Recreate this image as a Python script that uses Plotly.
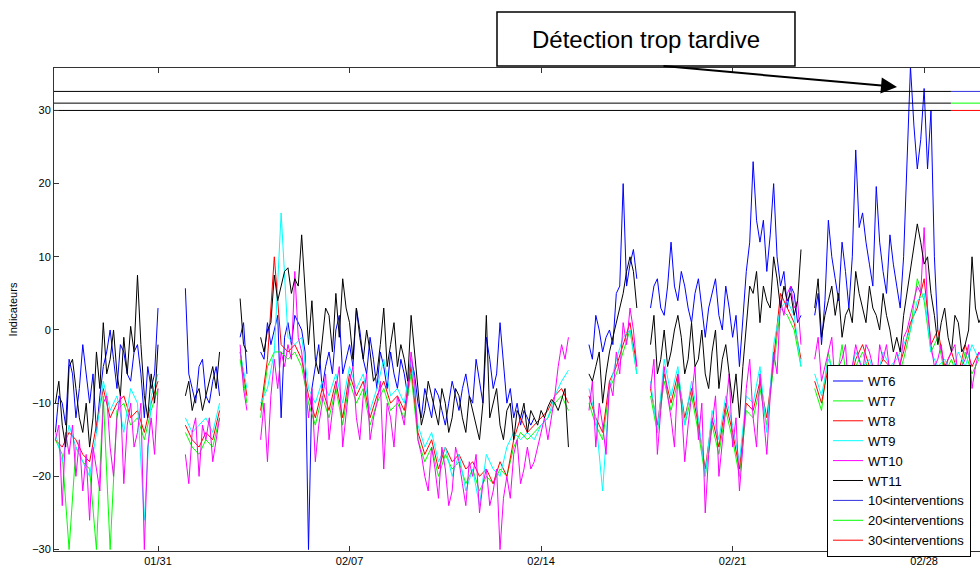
import plotly.graph_objects as go
import pandas as pd

# 6-hourly samples, starting 01/27 06:00
start = "2011-01-27 06:00"
n_points = 136

wt6 = [-14, -10, -4, -12, -2, -10, -14, -5, 0, -8,
       -3, -7, -2, -12, -8, 3, None, None, None, 5.7,
       -8, -5, -9, -7, -9, None, None, -1, -6, None,
       -3, 1, 0, -12, 1, 2, 0, -30, -5, -8,
       -3, 0, -6, -2, 3, -4, -1, -8, -5, -3,
       -8, -6, -4, -10, -8, -12, -9, -13, -7, -11,
       -6, -10, -7, -1, -8, 1, -10, -12, -13, -12,
       -12, None, None, None, None, None, None, None, -2, 2,
       -3, 0, 5, 20, 9, 7, None, 3, 7, 2,
       12, 4, 6, 1, 7, -1, 5, 2, 6, -1,
       -5, 8, 23, 12, 8, 20, 6, 3, 5, 2,
       None, 2, -2, 15, 7, 12, 3, 24.6, 16, 9,
       19.6, 8, 13, 6, 10, 36, 22, 33, 30, 0,
       None, None, None, None, None, None]
# values 3 h later (other side of the noisy band)
wt6_mid = [-9, -13, -6, -8, -6, -6, -9, -3, -4, -2,
           -6, -3, -6, -5, -6, None, None, None, None, -6,
           -10, -4, -10, -5, None, None, None, 1, None, None,
           -4, -2, 2, -1, -2, 1, -3, -8, -2, -5,
           -6, 2, -4, -5, 0, -6, -4, -3, -8, -6,
           -4, -9, -6, -12, -10, -8, -11, -10, -9, -8,
           -9, -4, -10, -4, -6, -4, -8, -10, -11, -13,
           None, None, None, None, None, None, None, None, -4, 0,
           -1, -2, 6, 6, 11, None, None, 6, 3, 6,
           6, 8, 3, 5, 3, 3, 7, 0, 3, 2,
           2, 12, 15, 15, 13, 10, 8, 6, 1, None,
           None, 5, 4, 10, 4, 8, 10, 14, 12, 6,
           12, 5, 9, 3, 22, 28, 26, 22, 10, None,
           None, None, None, None, None, None]

wt7 = [-15, -17, -30, -16, -18, -19, -30, -9, -30, -11,
       -10, -13, -12, -15, -11, -8, None, None, None, -14,
       -16, -17, -15, -16, -12, None, None, -4, -10, None,
       -12, -5, -3, -3, -4, -3, -5, -10, -13, -9,
       -12, -8, -13, -7, -10, -8, -13, -10, -8, -11,
       -10, -12, -6, -15, -18, -16, -20, -17, -19, -18,
       -21, -19, -22, -20, -21, -19, -20, -16, -14, -15,
       -14, -13, -12, -10, -9, -11, None, None, -10, -13,
       -15, -8, -6, -3, 0, -6, None, -9, -14, -7,
       -11, -7, -13, -9, -14, -20, -13, -17, -11, -15,
       -20, -11, -12, -8, -13, -5, 3, 2, 0, -5,
       None, -8, -11, -3, -8, -2, -9, -5, -3, -6,
       -7, -5, -6, -7, -4, 0, 7, 4, -3, -1,
       -6, -4, -7, -3, -6, -4]

wt8 = [-15, -16, -14, -15, -17, -18, -13, -8, -12, -10,
       -9, -12, -11, -14, -10, -7, None, None, None, -13,
       -15, -16, -14, -15, -11, None, None, -3, -9, None,
       -11, -4, 10, -2, -3, -2, -4, -9, -12, -8,
       -11, -7, -12, -6, -9, -7, -12, -9, -7, -10,
       -9, -11, -5, -14, -17, -15, -19, -16, -18, -17,
       -19, -18, -20, -19, -21, -18, -20, -15, -12, -14,
       -13, -12, -11, -9, -8, -10, None, None, -9, -12,
       -14, -7, -5, -2, 1, -5, None, -8, -13, -6,
       -10, -6, -12, -8, -13, -19, -12, -16, -10, -14,
       -19, -10, -11, -7, -12, -4, 5, 3, 1, -4,
       None, -7, -10, -5, -7, -6, -8, -4, -2, -5,
       -6, -4, -5, -6, -3, 1, 3, 7, -2, 0,
       -5, -3, -6, -2, -5, -3]

wt9 = [-14, -18, -13, -16, -18, -20, -14, -7, -11, -9,
       -14, -8, -10, -26, -9, -6, None, None, None, -12,
       -14, -13, -12, -14, -10, None, None, -3, -8, None,
       -10, -8, -3, 16, -1, -2, -1, -8, -10, -7,
       -9, -6, -10, -5, -8, -6, -11, -8, -4, -9,
       -8, -10, -4, -13, -16, -14, -18, -16, -20, -17,
       -22, -19, -24, -17, -19, -20, -16, -14, -15, -14,
       -15, -13, -12, -9, -7, -5.5, None, None, -8, -12,
       -22, -8, -4, -1, 0, -6, None, -7, -14, -4,
       -9, -5, -13, -7, -12, -20, -11, -15, -9, -13,
       -18, -9, -10, -5, -14, -2, 3, 4, 2, -5,
       None, -6, -9, -4, -6, -5, -7, -3, -5, -4,
       -7, -3, -5, -4, -2, 0, 4, 5, -3, -5,
       -4, -6, -3, -5, -2, -4]

wt10 = [-15, -24, -17, -20, -22, -26, -19, -10, -16, -12,
        -21, -10, -14, -30, -12, -8, None, None, None, -17,
        -14, -20, -15, -18, -12, None, None, -2, -11, None,
        -15, -18, -4, -3, -2, 8, -3, -12, -18, -10,
        -15, -8, -16, -7, -12, -9, -15, -10, -19, -12,
        -9, -13, -3, -15, -20, -16, -23, -19, -22, -18,
        -24, -20, -25, -19, -22, -30, -20, -17, -21, -16,
        -18, -14, -15, -9, -2, -1, None, None, -11, -16,
        -13, -7, -3, 1, 3, -5, None, -8, -17, -5,
        -12, -6, -18, -9, -15, -25, -13, -20, -11, -16,
        -22, -8, -12, -6, -17, -3, 4, 5, 3, -2,
        None, -4, -7, -3, -8, -4, -9, -2, -6, -3,
        -8, -4, -6, -3, -1, 2, 6, 14, -2, -4,
        -6, -3, -7, -4, -8, -3]
wt10_mid = [-13, -14, -13, -15, -17, -16, -22, -9, -20, -9,
            -13, -16, -10, -16, -17, None, None, None, None, -21,
            -12, -13, -12, -15, None, None, None, -8, None, None,
            -10, -9, -8, -5, -4, -1, -7, -8, -13, -6,
            -11, -5, -11, -5, -15, -6, -12, -7, -10, -16,
            -11, -8, -7, -17, -22, -19, -16, -24, -16, -21,
            -18, -17, -21, -24, -19, -23, -23, -15, -19, -19,
            -16, -12, -12, -5, -4, None, None, None, -7, -10,
            -17, -9, -6, -2, 0, None, None, -4, -11, -9,
            -16, -10, -13, -5, -10, -17, -9, -15, -6, -12,
            -16, -4, -16, -11, -9, -6, 2, 6, 4, None,
            None, -1, -5, -1, -5, -2, -5, -4, -2, -5,
            -2, -2, -5, -5, 0, 4, 5, 3, -5, -2,
            -4, -2, -5, -2, -5, -4]

wt11 = [-10, -13, -5, -8, -14, -16, -3, 1, -4, -6,
        -1, 0.5, 7.5, -9, -6, -2, None, None, None, -9,
        -11, -8, -9, -5, -3, None, None, 4.3, -3, None,
        -1, 0, 7.5, 6, 8.5, 7, 13, -2, -4, -1,
        2, 5, 7, 1, 3, -4, -3, -6, 3, -2,
        -5, -4, 2, -8, -11, -9, -13, -10, -12, -9,
        -14, -11, -15, 2, -10, -13, -11, -15, -12, -14,
        -12, -11, -10.5, -10, -9.5, -16, None, None, -6, -5,
        -10, -3, 1, 5, 10, 3, None, -2, -6, 0,
        -3, 2, -6, 1, -4, -6, -3, -8, -2, -10,
        -12, 0, 5, 1, 4, 10, 3, 4, 2, 11,
        None, 3, -1, 4, 2, -1, 3, 8, 3, 6,
        2, 5, 0, -1, 2, 8, 14.5, 9, 5, -2,
        3, -3, 1, -2, 10, 1]
wt11_mid = [-7, -16, -4, -12, -10, -12, -8, -6, 0, -9,
            -6, -3, -2, -12, -10, None, None, None, None, -7,
            -9, -11, -7, -8, None, None, None, -2, None, None,
            -3, 1, 4, 8, 5, 6, 5, 4, -6, 3,
            -3, -1, 3, -4, -1, 0, -7, -2, -5, 1,
            -2, -7, -3, -13, -7, -11, -8, -14, -8, -12,
            -9, -13, -10, -12, -8, -15, -10, -11, -10, -11,
            -13, -12, -9.5, -11, -8, None, None, None, -7, -3,
            -6, -1, 3, 8, 8, None, None, 2, -4, -5,
            0, -1, -4, -5, 0, -8, 0, -4, -6, -6,
            -5, 6, 8, 6, 3, 7, 6, 5, 4, None,
            None, 7, 2, 6, 5, 2, 1, 5, 1, 3,
            0, 2, -3, -3, 5, 11, 12, 10, 2, 1,
            -1, 2, -3, 0, 3, 2]

series_names = ["WT6", "WT7", "WT8", "WT9", "WT10", "WT11"]
series_colors = ["#0000FF", "#00FF00", "#FF0000", "#00FFFF", "#FF00FF", "#000000"]

# intervention thresholds
threshold_names = ["10<interventions", "20<interventions", "30<interventions"]
threshold_values = [32.6, 31.0, 30.0]
threshold_colors = ["#3030E0", "#00FF00", "#FF0000"]
threshold_switch = "2011-02-28 23:30"

x_start = "2011-01-27 04:46"
x_end = "2011-03-02 01:00"
tick_dates = ["2011-01-31", "2011-02-07", "2011-02-14", "2011-02-21", "2011-02-28"]
tick_labels = ["01/31", "02/07", "02/14", "02/21", "02/28"]

times6 = pd.date_range(start, periods=n_points, freq="6h")
times3 = pd.date_range(start, periods=2 * n_points, freq="3h")


def interleave(main, mid):
    out = []
    for a, b in zip(main, mid):
        out += [a, b]
    return out


series = [
    (times3, interleave(wt6, wt6_mid)),
    (times6, wt7),
    (times6, wt8),
    (times6, wt9),
    (times3, interleave(wt10, wt10_mid)),
    (times3, interleave(wt11, wt11_mid)),
]

fig = go.Figure()
for name, (xs, vals), col in zip(series_names, series, series_colors):
    fig.add_trace(go.Scatter(x=xs, y=vals, mode="lines", name=name,
                             line=dict(color=col, width=1), connectgaps=False))

# black part of the threshold lines (no legend)
for val in threshold_values:
    fig.add_trace(go.Scatter(x=[x_start, threshold_switch], y=[val, val], mode="lines",
                             line=dict(color="black", width=1), showlegend=False,
                             hoverinfo="skip"))
for name, val, col in zip(threshold_names, threshold_values, threshold_colors):
    fig.add_trace(go.Scatter(x=[threshold_switch, x_end], y=[val, val], mode="lines",
                             name=name, line=dict(color=col, width=1)))

font = "Liberation Sans, Arial, sans-serif"

fig.update_layout(
    width=980, height=569,
    margin=dict(l=54, r=0, t=68, b=18),
    paper_bgcolor="white", plot_bgcolor="white",
    font=dict(family=font, size=11, color="black"),
    legend=dict(x=0.8348, y=0.385, xanchor="left", yanchor="top",
                bgcolor="white", bordercolor="black", borderwidth=1,
                font=dict(size=13), tracegroupgap=0, itemwidth=30),
    xaxis=dict(type="date", range=[x_start, x_end],
               tickvals=tick_dates, ticktext=tick_labels,
               ticks="inside", ticklen=5, tickcolor="#333",
               showline=True, linecolor="#333", linewidth=1, mirror="ticks",
               showgrid=False, zeroline=False, tickfont=dict(size=11)),
    yaxis=dict(range=[-30.2, 35.8], tickvals=[-30, -20, -10, 0, 10, 20, 30],
               ticks="inside", ticklen=5, tickcolor="#333",
               showline=True, linecolor="#333", linewidth=1, mirror=False,
               showgrid=False, zeroline=False, tickfont=dict(size=11),
               title=dict(text="Indicateurs", font=dict(size=11), standoff=12)),
)

# callout box with arrow
fig.add_shape(type="rect", xref="paper", yref="paper",
              x0=0.4784, x1=0.8002, y0=1.0041, y1=1.1159,
              line=dict(color="black", width=1.5), fillcolor="white", layer="above")
fig.add_annotation(xref="paper", yref="paper", x=0.6393, y=1.060,
                   xanchor="center", yanchor="middle",
                   text="Détection trop tardive", showarrow=False,
                   font=dict(size=24, family=font, color="black"))
fig.add_annotation(xref="paper", yref="paper", x=0.9104, y=0.9607,
                   ax=-235, ay=-21, text="", showarrow=True,
                   arrowhead=2, arrowsize=1.6, arrowwidth=2, arrowcolor="black",
                   standoff=0, startstandoff=0)

# page without the default body margin so the figure sits at the window corner
fig.write_html("out.html", config={"displayModeBar": False},
               post_script="document.body.style.margin='0';document.body.style.overflow='hidden';")
